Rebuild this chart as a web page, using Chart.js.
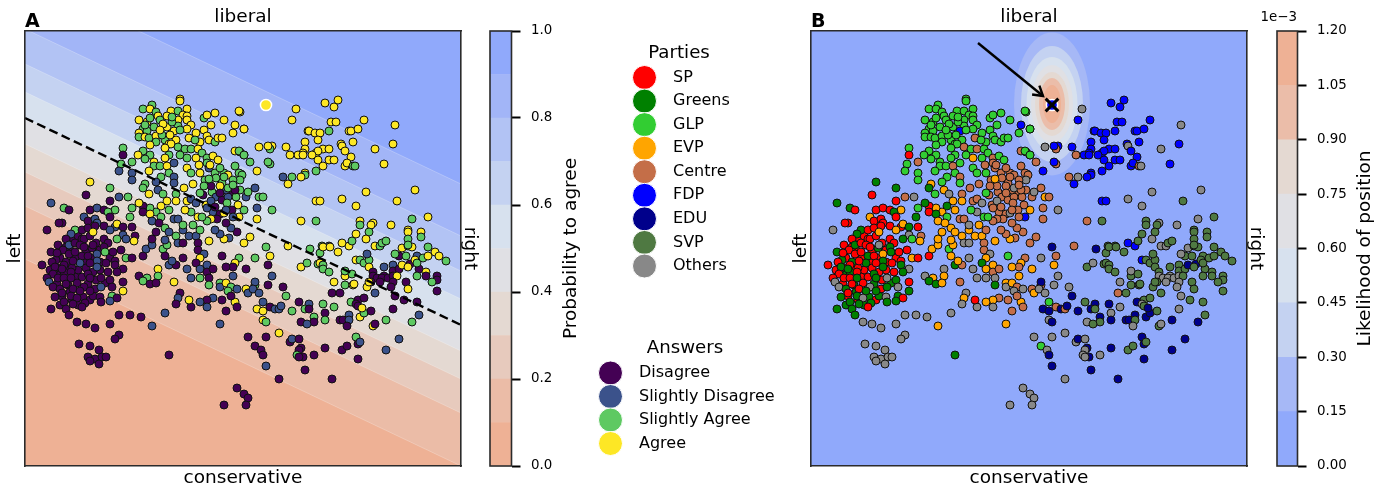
<!doctype html>
<html><head><meta charset="utf-8">
<script src="https://cdn.jsdelivr.net/npm/chart.js@4/dist/chart.umd.min.js"></script>
<style>html,body{margin:0;background:#fff;width:1388px;height:489px;overflow:hidden}canvas{position:absolute;top:0}</style>
</head><body>
<script>
// ---- categories ----
const answerNames = ['Disagree','Slightly Disagree','Slightly Agree','Agree'];
const answerColors = ['#440154','#3b528b','#5ec962','#fde725'];
const partyNames = ['SP','Greens','GLP','EVP','Centre','FDP','EDU','SVP','Others'];
const partyColors = ['#ff0000','#008000','#32cd32','#ffa500','#c46e48','#0000ff','#00008b','#4f7942','#888888'];
// ---- colour bars ----
const probLevels = [0,0.1,0.2,0.3,0.4,0.5,0.6,0.7,0.8,0.9,1.0];
const probColors = ['#eeb195','#ebbca7','#e7cabd','#e4d9d2','#e0e0e4','#d7e1ee','#c4d2f1','#b2c3f4','#a2b5f7','#90a9fb'];
const probTicks = [0,0.2,0.4,0.6,0.8,1.0];
const likeLevels = [0,0.15,0.30,0.45,0.60,0.75,0.90,1.05,1.20];
const likeColors = ['#90a9fb','#a6b8f6','#c4d2f1','#d7e1ee','#e0e0e4','#e4d9d2','#ebbda9','#eeb195'];
const likeTicks = [0,0.15,0.30,0.45,0.60,0.75,0.90,1.05,1.20];
// ---- panel domain (arbitrary ideal-point units) ----
const xDomain = [25,461];
const yDomain = [31,466];
// ---- probability contours of panel A: boundary height at both domain edges, for 0.1 ... 0.9 ----
const contourLeft  = [259,206,172,144,118,92,64,29,-23];
const contourRight = [466,413,379,351,325,299,271,236,184];
const decisionLine = [[25,118],[461,325]];
// ---- likelihood contours of panel B: semi-axes for levels 0.15 ... 1.05 ----
const idealPoint = [266,105];
const contourRx = [38,31,25.5,21,17,13,9];
const contourRy = [71.5,58,47,39,32,26,19];
const contourCy = 104;
const arrowFrom = [192,43];
const arrowTo = [257,96];
// ---- respondents: [x, y, answer, party] ----
const leftMass = [[73,238,0,0],[78,236,0,0],[70,250,0,0],[86,252,0,0],[92,248,0,1],[96,243,0,0],[100,250,0,0],[60,258,0,0],[66,262,0,1],[76,258,0,0],[84,262,0,0],[92,258,0,0],[100,262,0,0],[110,258,0,0],[56,260,0,1],[52,262,0,0],[59,268,0,0],[68,270,0,0],[78,270,0,0],[86,268,0,0],[100,270,0,0],[108,272,0,0],[50,270,0,0],[60,275,0,1],[75,277,0,0],[82,277,0,0],[96,280,0,0],[105,283,0,1],[68,285,0,1],[77,283,0,0],[88,284,0,1],[95,289,0,0],[57,284,0,0],[62,296,0,0],[70,292,0,1],[83,297,0,1],[90,300,0,0],[72,300,0,0],[78,305,0,1],[60,305,0,1],[85,303,0,1],[93,296,0,1],[66,247,0,0],[72,268,0,0],[64,272,0,1]];
const leftCluster = [[90,182,3,1],[110,188,2,1],[86,195,0,0],[119,197,1,4],[128,197,2,8],[51,203,1,1],[64,208,2,1],[69,210,0,0],[110,201,0,0],[90,210,0,0],[97,208,1,0],[104,210,0,0],[115,210,2,3],[108,212,2,1],[110,217,0,0],[84,217,1,3],[88,221,0,0],[95,219,1,0],[97,223,1,0],[62,223,0,0],[59,223,0,0],[47,230,0,8],[104,226,0,0],[75,230,2,1],[71,234,1,1],[82,230,0,0],[88,228,0,0],[95,226,0,0],[115,227,1,0],[117,224,3,3],[110,230,1,3],[123,227,0,1],[132,227,0,0],[123,235,1,8],[117,239,2,1],[126,239,1,2],[135,236,0,4],[134,241,3,3],[82,239,0,0],[66,239,0,0],[84,239,0,0],[90,236,0,0],[104,239,0,0],[93,245,0,8],[69,245,1,1],[75,243,0,0],[80,245,0,0],[84,247,0,0],[58,245,0,0],[63,250,0,0],[108,243,0,0],[104,247,0,1],[105,252,2,1],[113,252,0,0],[121,250,0,0],[51,252,0,1],[57,253,0,0],[69,254,0,0],[75,252,0,0],[82,256,0,1],[97,254,1,3],[88,256,0,0],[97,261,1,1],[115,261,0,0],[106,263,0,0],[90,263,0,0],[80,263,1,1],[73,261,0,0],[64,265,0,0],[42,265,0,0],[55,267,0,1],[71,272,0,0],[62,269,0,1],[53,274,0,0],[47,278,0,0],[58,278,0,0],[64,278,0,0],[71,278,0,1],[93,272,0,0],[97,267,1,1],[88,274,0,1],[101,278,0,8],[90,278,0,1],[115,265,0,1],[123,269,0,8],[117,272,0,1],[110,280,0,1],[123,282,0,0],[49,282,1,8],[53,287,0,8],[60,289,0,1],[66,284,0,0],[73,289,0,0],[84,287,0,8],[80,291,0,1],[90,291,0,1],[101,287,1,1],[112,287,0,8],[123,291,3,1],[55,297,0,1],[71,296,0,1],[62,293,0,0],[77,298,0,8],[100,297,0,8],[112,296,2,1],[117,298,0,0],[110,301,1,1],[101,302,0,1],[64,302,0,1],[73,304,0,1],[82,307,0,0],[51,309,0,1],[66,309,0,1],[69,315,0,1],[93,232,3,3]];
const lowerLeft = [[77,322,0,8],[86,324,0,8],[95,328,0,8],[110,324,0,8],[119,315,0,8],[130,315,0,8],[141,317,0,8],[152,326,1,3],[165,313,1,8],[119,335,0,8],[115,339,0,8],[79,344,0,8],[90,346,0,8],[99,350,0,8],[88,357,0,8],[95,359,0,8],[102,357,0,8],[106,357,0,8],[90,361,0,8],[99,364,0,8],[169,355,0,1],[220,324,1,3],[237,388,0,8],[244,394,0,8],[248,398,0,8],[224,405,0,8],[246,405,0,8],[248,337,0,8]];
const lowerRight = [[246,269,0,3],[255,258,2,8],[270,256,3,4],[268,265,0,3],[272,276,1,8],[268,285,0,8],[283,287,0,8],[286,296,2,6],[255,285,2,4],[255,282,1,6],[246,289,3,4],[248,293,1,3],[253,289,1,8],[259,293,1,8],[263,302,1,2],[257,309,3,6],[263,311,3,6],[270,307,0,4],[275,309,1,6],[279,309,1,4],[281,306,1,6],[263,320,3,8],[266,322,2,6],[292,311,2,6],[299,302,0,7],[309,304,1,6],[305,309,2,6],[309,309,0,7],[323,304,2,6],[334,307,2,8],[325,313,0,8],[314,317,2,6],[325,320,2,6],[314,322,0,7],[301,322,0,8],[307,324,1,7],[279,333,3,8],[266,337,0,8],[255,346,0,2],[261,350,0,8],[263,355,0,6],[266,366,1,6],[279,379,0,8],[290,342,0,8],[292,339,1,6],[299,339,0,8],[301,348,0,6],[299,350,0,8],[297,355,2,8],[303,357,0,6],[299,357,0,8],[314,355,0,8],[305,370,0,6],[325,348,0,6],[332,379,0,6],[342,350,0,7],[347,346,0,7],[358,359,0,6],[358,344,0,6],[356,337,2,6],[360,342,1,7],[386,350,1,6],[399,339,1,6],[412,322,2,6],[419,315,1,7],[386,320,2,6],[373,326,3,7],[375,324,0,8],[360,317,3,6],[364,313,2,6],[371,311,0,7],[393,309,0,8],[340,320,0,6],[343,320,0,6],[349,315,1,6],[349,320,1,7],[347,326,0,8]];
const rightBand = [[332,293,0,4],[340,293,0,7],[351,302,2,6],[358,300,0,7],[356,304,0,8],[358,306,0,7],[362,308,3,6],[364,298,0,7],[375,293,1,7],[395,296,0,8],[404,300,0,7],[417,302,0,7],[334,282,3,8],[345,285,2,7],[353,285,3,7],[354,284,3,7],[345,276,3,7],[345,271,2,8],[352,274,2,7],[301,267,3,7],[307,263,2,8],[318,264,2,7],[320,263,3,7],[323,265,2,7],[323,269,2,7],[329,272,2,7],[320,253,2,7],[310,249,2,6],[288,246,3,4],[338,252,3,7],[356,260,3,5],[360,260,2,7],[364,263,2,7],[369,260,2,7],[367,254,1,7],[369,267,3,7],[373,272,0,7],[384,267,1,7],[393,265,1,7],[393,271,0,7],[399,269,0,7],[399,256,0,7],[410,264,0,6],[419,269,0,7],[426,272,3,7],[426,276,0,7],[417,276,2,7],[437,276,0,7],[437,280,0,7],[432,282,2,7],[437,291,0,7],[406,282,0,7],[408,289,3,7],[373,276,0,8],[384,276,0,8],[377,278,0,8],[382,278,0,8],[388,278,0,8],[393,276,0,8],[397,276,3,7],[393,282,0,8],[391,287,0,8],[380,282,0,8],[371,282,0,7],[367,287,3,7],[369,282,3,7],[402,248,3,8],[408,246,2,7],[395,254,2,8],[406,256,2,7],[412,247,3,7],[417,256,1,7],[402,265,3,6],[408,267,3,7],[415,260,3,7],[417,263,2,7],[423,258,2,7],[428,256,3,7],[428,247,2,7],[435,252,3,7],[439,256,3,7],[446,261,2,7],[375,246,3,8],[380,246,2,8],[349,246,3,5],[329,246,1,7],[322,246,2,7],[323,247,3,7],[330,247,3,7]];
const upperRight = [[296,109,3,8],[292,120,3,5],[325,103,3,5],[338,100,3,5],[334,107,3,5],[331,122,3,5],[336,122,3,5],[364,120,3,5],[395,125,3,8],[308,131,3,5],[309,131,3,5],[329,131,2,5],[315,133,3,5],[320,133,3,5],[349,131,3,5],[351,131,3,5],[358,129,3,5],[353,142,3,5],[375,149,3,8],[393,144,3,5],[318,140,3,5],[305,142,3,5],[305,149,3,5],[341,144,3,5],[342,146,3,8],[345,151,3,5],[351,157,3,5],[323,149,3,5],[329,149,3,5],[316,153,3,5],[318,151,3,5],[312,155,3,5],[303,153,3,5],[298,155,3,5],[303,155,3,5],[290,155,3,4],[286,147,3,5],[272,146,3,5],[270,149,2,4],[268,146,3,5],[259,147,3,8],[318,160,3,5],[329,160,3,5],[334,160,3,5],[323,166,3,5],[345,166,3,5],[347,163,3,5],[353,166,2,4],[355,166,2,8],[384,164,3,5],[316,171,2,5],[305,173,3,5],[305,175,2,5],[301,177,3,5],[292,177,2,8],[283,177,1,4],[288,184,3,5],[257,171,3,5],[270,164,2,4],[268,162,2,5],[250,162,2,4],[244,155,2,4],[240,152,2,2],[244,129,3,2],[240,112,3,2],[241,174,2,4],[255,188,1,4],[246,197,1,4],[248,192,2,8],[259,197,2,3],[263,197,2,4],[257,208,1,4],[272,210,2,8],[244,210,2,3],[257,219,3,4],[301,221,3,4],[316,221,2,7],[316,201,3,5],[320,201,3,5],[342,199,3,8],[356,206,3,8],[366,192,3,8],[397,201,3,7],[415,190,3,8],[412,219,2,8],[428,217,3,7],[391,225,3,8],[360,221,3,7],[360,225,2,7],[373,223,3,8],[371,225,3,7],[369,232,2,7],[356,234,3,7],[366,239,3,8],[352,241,2,7],[408,230,3,7],[408,232,3,7],[408,239,2,7],[421,232,3,7],[421,237,2,7],[382,243,2,7],[386,241,2,7],[342,243,3,5],[408,245,2,7]];
const upperCluster = [[180,99,3,2],[180,101,3,2],[143,109,2,2],[152,105,2,2],[150,109,3,2],[156,112,2,2],[158,116,3,2],[171,111,3,2],[178,111,2,2],[187,109,3,2],[183,115,3,2],[187,116,3,2],[167,116,3,2],[178,120,3,2],[139,120,3,2],[147,122,3,2],[154,127,2,2],[143,129,2,2],[167,127,3,2],[187,120,3,2],[191,125,3,2],[178,126,2,2],[187,129,3,2],[174,131,3,5],[147,131,2,2],[139,133,3,2],[139,137,2,2],[145,137,3,2],[149,138,2,2],[156,136,3,2],[156,142,2,2],[165,140,2,2],[176,140,3,2],[189,138,3,4],[196,133,3,2],[200,142,3,2],[204,118,2,2],[207,115,3,2],[215,113,3,2],[211,125,3,2],[224,120,3,2],[239,111,3,2],[235,125,3,5],[244,129,3,2],[204,130,3,2],[207,136,3,2],[209,140,3,2],[215,142,2,2],[218,138,3,2],[222,138,3,2],[233,133,3,2],[160,120,2,2],[163,124,3,2],[172,122,2,2],[150,118,2,2],[145,125,2,2],[162,135,2,2],[170,135,3,2],[180,130,2,2],[195,140,2,2],[150,145,3,2],[160,130,3,2],[172,117,2,2],[169,144,3,2],[171,144,3,2],[178,147,2,4],[185,149,2,2],[191,149,2,4],[198,149,3,2],[202,153,2,2],[207,158,2,4],[213,156,3,2],[218,160,3,2],[235,151,3,4],[239,151,2,2],[244,155,2,2],[123,148,2,2],[123,155,0,0],[143,151,2,2],[150,155,2,2],[138,155,3,2],[165,148,3,2],[169,155,2,2],[165,158,3,2],[180,155,2,2],[187,158,2,3],[196,158,3,2],[121,164,2,2],[132,162,2,4],[145,159,2,2],[154,162,3,2],[154,166,2,2],[160,166,2,2],[167,166,3,4],[174,163,1,2],[149,171,3,2],[161,177,2,2],[169,173,2,2],[187,168,3,2],[200,173,3,2],[191,173,2,2],[207,163,2,4],[209,168,1,4],[215,173,2,4],[224,173,2,4],[235,166,2,4],[239,173,2,4],[242,175,2,4],[119,171,1,2],[132,173,1,2],[132,180,1,2],[156,182,1,2],[174,177,1,4],[174,183,1,2],[145,184,2,3],[143,188,2,1]];
const centreMass = [[216,178,2,4],[222,183,2,4],[228,175,3,4],[232,192,0,4],[236,197,2,4],[212,192,2,4],[216,197,1,4],[222,200,0,4],[228,197,1,4],[238,205,3,4],[213,212,1,4],[220,214,0,4],[226,190,1,4],[206,205,3,4],[232,210,0,4],[240,190,2,4],[205,180,2,4],[210,165,3,4],[220,168,2,4],[199,165,3,4],[240,180,2,8],[149,194,3,2],[158,190,1,3],[163,194,2,8],[176,194,2,4],[184,188,3,4],[193,184,3,4],[167,201,3,3],[176,201,3,3],[187,201,3,4],[191,199,1,4],[196,203,1,8],[203,195,0,4],[200,193,2,2],[211,186,0,4],[204,186,2,4],[209,179,2,3],[220,186,3,4],[220,193,0,4],[228,188,2,8],[235,190,0,4],[224,177,2,4],[233,180,2,4],[233,185,2,4],[250,237,3,4],[244,243,3,4],[266,247,2,6],[239,217,3,5],[237,232,0,4],[229,238,1,4],[224,239,3,3],[220,234,1,4],[215,230,1,4],[231,228,1,4],[226,223,0,4],[217,219,0,4],[224,213,3,8],[233,217,1,4],[211,219,3,4],[207,221,2,4],[198,217,3,2],[202,217,2,2],[207,208,1,4],[211,201,1,8],[215,207,0,4],[227,203,2,4],[226,210,1,4],[191,212,2,8],[185,210,3,2],[174,219,1,4],[178,219,1,4],[169,210,2,3],[161,206,3,1],[156,212,2,3],[150,208,2,3],[143,206,0,0],[143,212,0,0],[139,203,3,1],[132,208,2,2],[130,217,2,1],[150,214,3,1],[152,221,1,3],[161,217,2,2],[159,223,0,3],[156,232,0,3],[165,228,2,3],[169,232,1,3],[176,236,2,3],[183,230,1,3],[183,225,2,8],[193,225,2,3],[189,236,1,3],[196,236,1,3],[200,230,2,4],[209,241,3,3],[198,243,0,4],[198,250,0,4],[204,254,1,8],[200,258,3,3],[207,265,1,3],[196,263,0,1],[200,269,1,3],[200,278,2,8],[191,278,1,8],[187,269,1,8],[207,272,0,4],[213,269,0,4],[209,278,0,8],[209,285,2,1],[222,256,0,2],[239,258,2,4],[235,263,3,3],[233,267,0,4],[226,267,0,3],[233,276,1,3],[220,283,2,3],[220,287,1,8],[226,283,3,3],[231,287,2,4],[228,291,2,8],[237,289,1,8],[235,302,3,3],[237,307,0,4],[231,296,0,4],[222,300,0,4],[213,298,1,4],[207,300,0,3],[200,302,1,3],[207,307,1,8],[191,307,0,8],[189,300,3,0],[180,293,0,8],[178,298,1,3],[176,304,0,8],[226,311,0,4],[174,282,3,4],[158,269,3,8],[158,276,2,3],[139,276,0,8],[147,278,2,3],[143,281,2,1],[150,284,0,1],[156,283,0,3],[126,258,2,3],[132,258,0,0],[143,256,0,0],[146,249,1,3],[152,245,1,3],[152,239,0,3],[163,249,2,2],[167,245,2,3],[165,240,1,3],[165,256,0,3],[169,265,1,1],[176,265,0,4],[172,261,1,3],[183,258,0,8],[178,243,1,8],[183,243,0,8]];

// ---- helpers ----
const FONT = 'DejaVu Sans';
const H = 489;
const FRAME = '#2b2b2b';
function canvas(left, width){
  const c = document.createElement('canvas');
  c.width = width; c.height = H;
  c.style.left = left + 'px'; c.style.width = width + 'px'; c.style.height = H + 'px';
  document.body.appendChild(c);
  return c.getContext('2d');
}
const textPlugin = items => ({id:'canvasText', afterDraw(chart){
  const ctx = chart.ctx;
  for(const t of items){
    ctx.save();
    ctx.translate(t.x, t.y);
    if(t.rot) ctx.rotate(t.rot);
    ctx.font = (t.bold ? 'bold ' : '') + t.size + 'px "' + FONT + '"';
    ctx.fillStyle = '#000';
    ctx.textAlign = t.align || 'center';
    ctx.textBaseline = t.base || 'middle';
    ctx.fillText(t.text, 0, 0);
    ctx.restore();
  }
}});
function axis(position, text, domain, reverse, size, pad){
  const horiz = position === 'top' || position === 'bottom';
  return {
    type:'linear', position, min:domain[0], max:domain[1], reverse,
    ticks:{display:false}, grid:{display:false, drawTicks:false},
    border:{display:true, color:FRAME, width:1.6, z:1},
    title:{display:true, text, color:'#000', font:{family:FONT, size:18.5}, padding:{top:pad, bottom:0}},
    afterFit(s){ if(horiz) s.height = size; else s.width = size; }
  };
}
const rows = [leftMass, leftCluster, lowerLeft, lowerRight, rightBand, upperRight, upperCluster, centreMass].flat();
const toXY = r => ({x:r[0], y:r[1]});
const panelScales = {
  x: axis('bottom','conservative',xDomain,false,23,-1),
  x2: axis('top','liberal',xDomain,false,31,6),
  y: axis('left','left',yDomain,true,25,4),
  y2: axis('right','right',yDomain,true,24,4)
};
const baseOptions = () => ({
  responsive:false, animation:false, devicePixelRatio:1,
  layout:{padding:0},
  plugins:{legend:{display:false}, tooltip:{enabled:false}},
  scales:panelScales
});
const pointStyle = {showLine:false, pointRadius:4, pointBorderWidth:1, pointBorderColor:'#111'};

// ---- panel A ----
const bandPlugin = {id:'bands', beforeDatasetsDraw(chart){
  const {ctx, chartArea:a, scales:{x,y}} = chart;
  ctx.save();
  ctx.beginPath(); ctx.rect(a.left,a.top,a.right-a.left,a.bottom-a.top); ctx.clip();
  ctx.fillStyle = probColors[probColors.length-1];
  ctx.fillRect(a.left,a.top,a.right-a.left,a.bottom-a.top);
  const xl = x.getPixelForValue(xDomain[0]), xr = x.getPixelForValue(xDomain[1]);
  for(let i = contourLeft.length-1; i >= 0; i--){
    const yl = y.getPixelForValue(contourLeft[i]), yr = y.getPixelForValue(contourRight[i]);
    ctx.beginPath(); ctx.moveTo(xl,yl); ctx.lineTo(xr,yr); ctx.lineTo(xr,a.bottom+5); ctx.lineTo(xl,a.bottom+5); ctx.closePath();
    ctx.fillStyle = probColors[i]; ctx.fill();
    ctx.beginPath(); ctx.moveTo(xl,yl); ctx.lineTo(xr,yr);
    ctx.strokeStyle = 'rgba(255,255,255,0.3)'; ctx.lineWidth = 0.8; ctx.stroke();
  }
  ctx.restore();
}};
new Chart(canvas(0,485), {
  type:'scatter',
  data:{datasets:[
    {data:[{x:idealPoint[0],y:idealPoint[1]}], order:-1, showLine:false, pointRadius:5.6, pointBorderWidth:1.5, pointBorderColor:'#fff', pointBackgroundColor:answerColors[3]},
    {data:decisionLine.map(p=>({x:p[0],y:p[1]})), order:0, showLine:true, pointRadius:0, borderColor:'#000', borderWidth:2.4, borderDash:[9,4.5]},
    Object.assign({data:rows.map(toXY), order:1, pointBackgroundColor:rows.map(r=>answerColors[r[2]])}, pointStyle)
  ]},
  options:baseOptions(),
  plugins:[bandPlugin, textPlugin([{text:'A', x:25, y:27, size:19, bold:true, align:'left', base:'alphabetic'}])]
});

// ---- panel B ----
const ellipsePlugin = {id:'ellipses', beforeDatasetsDraw(chart){
  const {ctx, chartArea:a, scales:{x,y}} = chart;
  ctx.save();
  ctx.fillStyle = likeColors[0];
  ctx.fillRect(a.left,a.top,a.right-a.left,a.bottom-a.top);
  const cx = x.getPixelForValue(idealPoint[0]), cy = y.getPixelForValue(contourCy);
  contourRx.forEach((rx,i)=>{
    const px = x.getPixelForValue(idealPoint[0]+rx)-cx;
    const py = y.getPixelForValue(contourCy+contourRy[i])-cy;
    ctx.beginPath(); ctx.ellipse(cx,cy,px,py,0,0,Math.PI*2);
    ctx.fillStyle = likeColors[i+1]; ctx.fill();
  });
  ctx.restore();
}, afterDatasetsDraw(chart){
  const {ctx, scales:{x,y}} = chart;
  const x0 = x.getPixelForValue(arrowFrom[0]), y0 = y.getPixelForValue(arrowFrom[1]);
  const x1 = x.getPixelForValue(arrowTo[0]), y1 = y.getPixelForValue(arrowTo[1]);
  const ang = Math.atan2(y1-y0,x1-x0);
  ctx.save();
  ctx.strokeStyle = '#000'; ctx.lineWidth = 2.4; ctx.lineJoin = 'miter';
  ctx.beginPath(); ctx.moveTo(x0,y0); ctx.lineTo(x1,y1); ctx.stroke();
  ctx.beginPath();
  ctx.moveTo(x1+11*Math.cos(ang+Math.PI-0.55), y1+11*Math.sin(ang+Math.PI-0.55));
  ctx.lineTo(x1,y1);
  ctx.lineTo(x1+11*Math.cos(ang+Math.PI+0.55), y1+11*Math.sin(ang+Math.PI+0.55));
  ctx.stroke();
  ctx.restore();
}};
new Chart(canvas(786,485), {
  type:'scatter',
  data:{datasets:[
    {data:[{x:idealPoint[0],y:idealPoint[1]}], order:-2, showLine:false, pointStyle:'crossRot', pointRadius:9, pointBorderWidth:3, pointBorderColor:'#000'},
    {data:[{x:idealPoint[0],y:idealPoint[1]}], order:-1, showLine:false, pointRadius:5.6, pointBorderWidth:1.5, pointBorderColor:'#fff', pointBackgroundColor:partyColors[5]},
    Object.assign({data:rows.map(toXY), order:1, pointBackgroundColor:rows.map(r=>partyColors[r[3]])}, pointStyle)
  ]},
  options:baseOptions(),
  plugins:[ellipsePlugin, textPlugin([{text:'B', x:25, y:27, size:19, bold:true, align:'left', base:'alphabetic'}])]
});

// ---- colour bars ----
function colorbar(left, width, padLeft, barW, levels, colors, tickValues, digits, extraText){
  const framePlugin = {id:'frame', afterDraw(chart){
    const {ctx, chartArea:a} = chart;
    ctx.save(); ctx.strokeStyle = FRAME; ctx.lineWidth = 1.6;
    ctx.strokeRect(a.left,a.top,a.right-a.left,a.bottom-a.top); ctx.restore();
  }};
  new Chart(canvas(left,width), {
    type:'bar',
    data:{labels:[''], datasets:colors.map((c,i)=>({data:[[levels[i],levels[i+1]]], backgroundColor:c, grouped:false, barPercentage:1, categoryPercentage:1}))},
    options:{
      responsive:false, animation:false, devicePixelRatio:1,
      layout:{padding:{left:padLeft, top:31, bottom:23, right:0}},
      plugins:{legend:{display:false}, tooltip:{enabled:false}},
      scales:{
        x:{display:false},
        y:{type:'linear', position:'right', min:levels[0], max:levels[levels.length-1],
          border:{display:false},
          grid:{drawOnChartArea:false, drawTicks:true, tickLength:9, tickWidth:2, tickColor:'#000'},
          ticks:{color:'#000', font:{family:FONT, size:13.4}, padding:10.5, autoSkip:false, callback:v=>Number(v).toFixed(digits)},
          afterBuildTicks(s){ s.ticks = tickValues.map(v=>({value:v})); },
          afterFit(s){ s.width = width-padLeft-barW; }
        }
      }
    },
    plugins:[framePlugin, textPlugin(extraText)]
  });
}
colorbar(480,120,10,21.5,probLevels,probColors,probTicks,1,[{text:'Probability to agree', x:90.7, y:248.5, size:18.5, rot:-Math.PI/2}]);
colorbar(1256,132,21,20.5,likeLevels,likeColors,likeTicks,2,[{text:'Likelihood of position', x:109, y:248.5, size:18.5, rot:-Math.PI/2},{text:'1e\u22123', x:41, y:18, size:13.4, align:'right'}]);

// ---- legends: one point per category on a category axis ----
function legendChart(left, width, top, bottom, names, colors, title, titleX, titleY){
  new Chart(canvas(left,width), {
    type:'scatter',
    data:{datasets:[{data:names.map(n=>({x:0,y:n})), clip:false, showLine:false, pointRadius:12, pointBorderWidth:1, pointBorderColor:'#fff', pointBackgroundColor:colors}]},
    options:{
      responsive:false, animation:false, devicePixelRatio:1,
      layout:{padding:{left:8, top, bottom:H-bottom, right:0}},
      plugins:{legend:{display:false}, tooltip:{enabled:false}},
      scales:{
        x:{type:'linear', display:false, min:-1, max:1.35},
        y:{type:'category', labels:names, position:'right',
          border:{display:false}, grid:{display:false, drawTicks:false},
          ticks:{color:'#000', font:{family:FONT, size:16}, padding:13, autoSkip:false, crossAlign:'near'},
          afterFit(s){ s.width = width-40; }
        }
      }
    },
    plugins:[textPlugin([{text:title, x:titleX, y:titleY, size:18.2}])]
  });
}
legendChart(620,170,77.5,266,partyNames,partyColors,'Parties',59,53);
legendChart(586,200,373,443.5,answerNames,answerColors,'Answers',99,348);
</script>
</body></html>
